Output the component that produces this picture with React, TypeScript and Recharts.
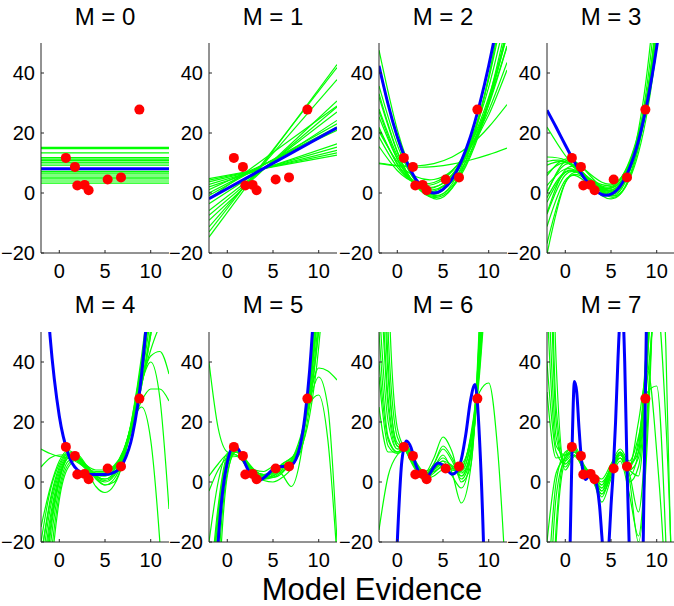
import React from 'react';
import { ComposedChart, Line, XAxis, YAxis } from 'recharts';

// observed data points (red)
const POINT_X = [0.72, 1.71, 1.97, 2.77, 3.21, 5.29, 6.75, 8.76];
const POINT_Y = [11.7, 8.7, 2.5, 2.7, 0.9, 4.5, 5.2, 27.8];

const TITLES = ['M = 0', 'M = 1', 'M = 2', 'M = 3', 'M = 4', 'M = 5', 'M = 6', 'M = 7'];
const X_TICKS = [0, 5, 10];
const Y_TICKS = [-20, 0, 20, 40];

// x grids the curves are sampled on
const X_ENDS = [-2, 12];
const X_STEP2 = [-2, 0, 2, 4, 6, 8, 10, 12];
const X_STEP1 = [-2, -1, 0, 1, 2, 3, 4, 5, 6, 7, 8, 9, 10, 11, 12];
const X_HALF = [-2, -1.5, -1, -0.5, 0, 0.5, 1, 1.5, 2, 2.5, 3, 3.5, 4, 4.5, 5, 5.5, 6, 6.5, 7, 7.5, 8, 8.5, 9, 9.5, 10, 10.5, 11, 11.5, 12];
const M7_BLUE_X = [-2, -1, 0, 0.25, 0.5, 0.75, 1, 1.25, 1.5, 1.75, 2, 2.25, 2.5, 2.75, 3, 3.25, 3.5, 3.75, 4, 4.25, 4.5, 4.75, 5, 5.25, 5.5, 5.75, 6, 6.25, 6.5, 6.75, 7, 7.25, 7.5, 7.75, 8, 8.25, 8.5, 8.75, 9, 9.5, 10, 11, 12];

// M = 0
const M0_BLUE = [8.1, 8.1];
const M0_GREEN_LEVELS = [15.2, 14.8, 13.4, 11.8, 11.3, 10.9, 10.3, 10.0, 9.3, 7.8, 7.1, 6.6, 6.0, 5.3, 4.7, 4.0, 3.3];

// M = 1 (value at x=-2, value at x=12)
const M1_BLUE = [-1.9, 21.7];
const M1_GREEN = [
  [4.8, 12.6], [3.7, 14.2], [2.9, 15.3], [2.0, 16.4], [1.1, 20.9], [0.0, 22.0], [-0.8, 23.1], [-3.6, 24.2],
  [-5.8, 27.0], [-7.4, 28.7], [-9.1, 30.7], [-11.3, 37.8], [-13.0, 41.8], [-14.7, 42.8], [4.3, 13.4], [-2.0, 29.0],
];

// M = 2
const M2_BLUE = [42.4, 29.5, 18.8, 10.6, 4.7, 1.2, 0, 1.2, 4.7, 10.6, 18.8, 29.5, 42.4, 57.7, 75.4];
const M2_GREEN = [
  [41.6, 18.1, 3.9, -1.2, 3.0, 16.3, 38.8, 70.6],
  [33.1, 13.9, 2.7, -0.5, 4.3, 17.1, 37.9, 66.7],
  [27.2, 11.5, 2.7, 0.6, 5.4, 17.0, 35.3, 60.5],
  [21.9, 9.6, 2.9, 1.8, 6.2, 16.3, 32.0, 53.3],
  [18.7, 8.6, 3.4, 2.9, 7.2, 16.3, 30.2, 49.0],
  [47.6, 21.1, 4.6, -1.9, 1.6, 15.1, 38.6, 72.1],
  [35.7, 16.0, 3.8, -0.8, 2.3, 12.9, 31.2, 57.0],
  [28.0, 12.4, 3.1, 0.2, 3.7, 13.6, 30.0, 52.7],
  [15.5, 7.5, 3.5, 3.5, 7.5, 15.5, 27.5, 43.5],
  [25.4, 11.3, 3.2, 1.1, 5.0, 14.9, 30.8, 52.7],
  [32.0, 13.6, 2.5, -1.5, 1.7, 12.2, 29.8, 54.7],
  [9.8, 9.0, 8.6, 8.8, 9.6, 11.0, 12.8, 15.0],
  [10.0, 9.2, 9.0, 9.8, 12.0, 16.0, 22.0, 29.5],
  [20.5, 10.5, 5.5, 4.5, 7.5, 15.0, 26.0, 41.0],
  [21.5, 9.8, 3.3, 2.0, 5.9, 15.0, 29.3, 48.8],
];

// M = 3
const M3_BLUE = [27.6, 21.9, 16.0, 10.3, 5.3, 1.6, -0.5, -0.4, 2.3, 8.1, 17.4, 30.8, 48.7, 71.5, 99.7];
const M3_GREEN = [
  [-1.6, 7.1, 5.6, 1.6, 2.8, 16.8, 51.4, 114.2],
  [-7.1, 6.0, 5.5, 0.9, 1.8, 17.8, 58.5, 133.6],
  [0.4, 9.5, 6.6, 0.6, -0.1, 13.3, 49.4, 116.8],
  [6.6, 10.1, 6.5, 2.3, 4.4, 19.4, 54.1, 115.1],
  [-11.2, 4.3, 4.2, -0.9, -0.4, 16.1, 59.3, 139.8],
  [-16.9, 3.4, 5.1, 0.2, 0.7, 18.6, 65.9, 154.6],
  [5.8, 11.3, 8.2, 3.6, 4.8, 19.0, 53.3, 115.0],
  [9.3, 10.4, 6.0, 1.8, 3.7, 17.5, 48.7, 103.4],
  [-3.1, 6.8, 5.6, 1.3, 2.1, 16.1, 51.6, 116.6],
  [0.0, 10.6, 8.1, 1.9, 1.8, 17.2, 57.9, 133.3],
  [22.0, 12.5, 5.5, 1.5, 4.5, 20.0, 52.0, 105.0],
  [-20.4, 3.4, 5.9, 0.8, 1.3, 21.0, 73.4, 171.7],
  [2.5, 8.0, 6.0, 2.8, 4.5, 17.5, 48.0, 102.2],
  [-6.6, 7.7, 6.5, 0.3, -0.4, 15.0, 57.0, 136.3],
  [12.0, 11.0, 6.5, 2.0, 3.5, 17.0, 50.0, 112.0],
  [10.5, 10.5, 5.5, 1.0, 3.0, 17.5, 52.0, 118.0],
];

// M = 4
const M4_BLUE = [95.1, 48.3, 22.0, 9.1, 4.0, 2.6, 2.5, 2.5, 3.2, 6.4, 15.6, 35.8, 73.4, 136.5, 234.6];
const M4_GREEN = [
  [-35, -12, 2, 8, 7, 4, 2, 2, 4, 10, 21, 37, 58, 85, 118],
  [-25, -6, 5, 9.5, 8, 5, 3, 3, 5, 10, 20, 35, 55, 80, 110],
  [-45, -16, 1, 9, 9, 5.5, 2, 0.5, 2.5, 9, 21, 38, 60, 88, 122],
  [-20, -3, 6, 10, 8.5, 5, 2.5, 2.5, 5, 10.5, 20, 33, 44, 52, 55],
  [-60, -22, -2, 7, 8, 5, 1, -1, 1, 8, 21, 40, 65, 95, 130],
  [5, 8, 9, 9, 7, 4.5, 3, 3, 4.5, 9, 18, 32, 49, 70, 95],
  [11, 9.5, 8.5, 8, 6.5, 4.5, 3.5, 3.5, 5, 9.5, 19, 33, 51, 74, 100],
  [-30, -9, 3, 8.5, 8, 5, 1.5, -1, 0, 7, 20, 34, 42, 43.5, 36],
  [-40, -14, 1, 8, 8, 5, 2, 1, 3, 9, 19, 27, 31, 31, 27],
  [-25, -7, 4, 9, 7.5, 4.5, 2.5, 2, 4, 10, 20, 25, 14, -20, -70],
  [-50, -18, 0, 8, 8.5, 5, 1.5, 0, 2, 8.5, 20, 33, 40, 28, -9],
  [-70, -28, -4, 6, 8, 4, -1.5, -3.5, -1, 7, 22, 42, 68, 100, 140],
  [-15, -2, 7, 10.5, 8.5, 5.5, 4, 4, 5.5, 10, 19, 32, 49, 70, 96],
  [-90, -35, -6, 5, 7.5, 5, 2, 1, 3, 9, 22, 40, 62, 90, 125],
];

// M = 5
const M5_BLUE = [-90, -50, -20, -3, 6.5, 11.2, 11.6, 9.3, 5.8, 2.8, 1.0, 0.6, 1.4, 2.8, 4.2, 5.0, 5.2, 5.2, 5.6, 7.5, 12.5, 22, 37, 60, 95, 140, 200, 280, 380];
const M5_GREEN = [
  [-60, -15, 7, 10, 6, 3, 2, 3, 5, 6, 12, 30, 62, 110, 180],
  [-40, -8, 9, 11, 7, 3.5, 2.5, 3.5, 5.5, 7, 13, 28, 55, 95, 150],
  [-80, -22, 5, 10.5, 6.5, 2.5, 1.5, 3, 6, 8, 13, 27, 50, 82, 120],
  [40, 18, 10, 9, 6, 3, 1.5, 2, 4, 6.5, 13, 31, 65, 120, 200],
  [-3, 4, 8, 8.5, 6, 3.5, 2.5, 3.5, 5.5, 7, 12, 28, 38, 37, 34],
  [2, 6, 9, 9, 5.5, 2.5, 1, 1.5, 3.5, 6, 13, 26, 29, 14, -25],
  [-50, -12, 7, 11, 7.5, 4, 2, 1.5, 3, 7, 15, 27, 35, 25, -20],
  [-100, -30, 3, 10, 7, 3, 0.5, 0, 1.5, 4.5, 12, 30, 60, 105, 170],
  [-70, -18, 6, 10, 6, 2.5, 1, 2.5, 6, 8, 11, 22, 45, 85, 145],
  [-45, -10, 8, 10.5, 7, 4, 3.5, 5, 2.5, -1.5, 8, 33, 75, 140, 230],
  [-20, 0, 9.5, 10, 6, 3, 2, 3, 5.5, 7.5, 14, 32, 70, 130, 210],
  [-120, -40, 2, 11, 7.5, 3, 1, 2, 4.5, 6, 10, 25, 52, 95, 160],
];

// M = 6
const M6_BLUE = [-300, -200, -120, -60, -20, 7, 13.7, 11.5, 6, 2.5, 1.5, 2.5, 5, 6.3, 5.5, 3.8, 2.6, 3.5, 7.5, 16, 27, 32.5, 14, -28, -100, -200, -300, -400, -500];
const M6_GREEN = [
  [80, 25, 11, 11.5, 5.5, 2, 4, 6, 4, 4, 13, 45, 120, 250, 400],
  [120, 35, 13, 11, 5, 1.5, 5, 8, 5, 2, 10, 50, 140, 280, 450],
  [50, 15, 10, 12, 6, 2.5, 6, 11, 7, 1, 8, 42, 110, 220, 380],
  [200, 50, 15, 10, 4.5, 1, 3, 5.5, 4.5, 5, 15, 40, 95, 190, 320],
  [35, 12, 9.5, 11, 6, 3, 8, 15, 10, 0, 5, 48, 130, 260, 420],
  [-16, 2, 9, 11, 5, 1, 2, 4, 3, 4, 14, 30, 33, 10, -40],
  [150, 40, 12, 10.5, 5, 2, 5, 9, 3, -7, 4, 52, 150, 300, 500],
  [90, 28, 12, 11, 5.5, 2.5, 4.5, 7, 5.5, 3, 9, 40, 105, 210, 350],
  [25, 10, 10, 12, 7, 3, 3.5, 5, 5, 6, 14, 38, 90, 180, 300],
  [300, 70, 18, 10, 4, 0.5, 4, 7, 2, -2, 8, 55, 160, 320, 520],
  [60, 20, 11, 11, 5, 1.5, 6, 12, 8, 2, 9, 44, 115, 230, 390],
  [40, 14, 10, 11.5, 6.5, 3.5, 5, 6, 4, 3.5, 12, 36, 85, 170, 290],
];

// M = 7
const M7_BLUE = [-300, -200, -80, -50, -25, 12, 33.5, 30, 18, 8, 2.5, 0.8, 2, 2.7, 2.2, 0.9, -2, -8, -18, -28, -33, -22, -8, 4, 20, 40, 55, 58, 40, 5.2, -22, -50, -70, -80, -75, -55, -25, 27, 80, 200, 300, 400, 500];
const M7_GREEN = [
  [80, 15, 7, 10, 4, 2, -3, 4, 8, 2, 10, 55, 150, 300, 500],
  [-60, -5, 8, 11, 5, 1.5, -5, 3, 10, 0, 5, 45, 140, 280, 450],
  [150, 25, 6, 9, 4.5, 3, -1, 5, 9, 5, 20, 37, 10, -40, -150],
  [-100, -15, 9, 12, 6, 1, -6.7, 1, 7, -4, -18, 20, 100, 250, 450],
  [40, 10, 6, 9, 5, 3, 1, 6, 11, 7, 15, 30, 32, -20, -120],
  [-40, 0, 10, 11.5, 4, 0, -4, 2, 8, 4, 2, 40, 120, 250, 400],
  [200, 40, 4, 8.5, 5, 2.5, -2, 4, 10, 6, 12, 50, 90, 45, -80],
  [-150, -20, 7, 10, 5.5, 2, -3, 3, 9, 3, -10, 25, 90, 200, 350],
  [60, 12, 9, 10, 4, 1, -2, 5, 10, 6, 10, 45, 110, 150, 80],
  [-20, 3, 8, 10.5, 5, 2.5, 0, 4.5, 8, 4, 8, 35, 60, 20, -60],
  [120, 20, 5, 9, 4.5, 1.5, -4, 2, 9, 1, -20, 15, 100, 220, 380],
  [30, 8, 9, 11, 5, 2, -1, 5, 9.5, 5, 14, 42, 100, 200, 320],
];

const FONT = '"Liberation Sans", Arial, Helvetica, sans-serif';
const COL_LEFT = [1, 169, 339, 507];
const ROW_TOP = [0, 289];
const CHART_W = 168;
const CHART_H = 289;

type Curve = 'linear' | 'natural' | 'monotone';

const toPoints = (xs: number[], ys: number[]) => xs.map((x, i) => ({ x, y: ys[i] }));

const PANELS: { curve: Curve; greenX: number[]; green: number[][]; blueX: number[]; blue: number[] }[] = [
  { curve: 'linear', greenX: X_ENDS, green: M0_GREEN_LEVELS.map((v) => [v, v]), blueX: X_ENDS, blue: M0_BLUE },
  { curve: 'linear', greenX: X_ENDS, green: M1_GREEN, blueX: X_ENDS, blue: M1_BLUE },
  { curve: 'natural', greenX: X_STEP2, green: M2_GREEN, blueX: X_STEP1, blue: M2_BLUE },
  { curve: 'natural', greenX: X_STEP2, green: M3_GREEN, blueX: X_STEP1, blue: M3_BLUE },
  { curve: 'monotone', greenX: X_STEP1, green: M4_GREEN, blueX: X_STEP1, blue: M4_BLUE },
  { curve: 'monotone', greenX: X_STEP1, green: M5_GREEN, blueX: X_HALF, blue: M5_BLUE },
  { curve: 'monotone', greenX: X_STEP1, green: M6_GREEN, blueX: X_HALF, blue: M6_BLUE },
  { curve: 'monotone', greenX: X_STEP1, green: M7_GREEN, blueX: M7_BLUE_X, blue: M7_BLUE },
];

const POINTS = toPoints(POINT_X, POINT_Y);
const tickStyle = { fill: '#000', fontSize: 20, fontFamily: FONT };
const fmt = (v: number) => (v < 0 ? `\u2212${Math.abs(v)}` : `${v}`);

function Panel({ index }: { index: number }) {
  const p = PANELS[index];
  const left = COL_LEFT[index % 4];
  const top = ROW_TOP[Math.floor(index / 4)];
  return (
    <div style={{ position: 'absolute', left, top }}>
      <ComposedChart width={CHART_W} height={CHART_H} margin={{ top: 43, right: 0, bottom: 0, left: 0 }}>
        <XAxis
          dataKey="x"
          type="number"
          domain={[-2, 12]}
          ticks={X_TICKS}
          interval={0}
          allowDataOverflow
          height={36}
          tickSize={-3}
          tickMargin={14}
          stroke="#262626"
          tick={tickStyle}
        />
        <YAxis
          type="number"
          domain={[-20, 50]}
          ticks={Y_TICKS}
          interval={0}
          allowDataOverflow
          width={40}
          tickSize={-3}
          tickMargin={9}
          stroke="#262626"
          tick={tickStyle}
          tickFormatter={fmt}
        />
        {p.green.map((ys, i) => (
          <Line
            key={`g${i}`}
            data={toPoints(p.greenX, ys)}
            dataKey="y"
            type={p.curve}
            stroke="#00ff00"
            strokeWidth={1.2}
            dot={false}
            activeDot={false}
            isAnimationActive={false}
          />
        ))}
        <Line
          data={toPoints(p.blueX, p.blue)}
          dataKey="y"
          type={p.curve}
          stroke="#0000ff"
          strokeWidth={3}
          dot={false}
          activeDot={false}
          isAnimationActive={false}
        />
        <Line
          data={POINTS}
          dataKey="y"
          stroke="none"
          dot={{ r: 5, fill: '#ff0000', stroke: 'none' }}
          activeDot={false}
          isAnimationActive={false}
        />
      </ComposedChart>
    </div>
  );
}

export default function App() {
  return (
    <div style={{ position: 'absolute', left: 0, top: 0, width: 674, height: 606, background: '#fff', overflow: 'hidden' }}>
      {PANELS.map((_, i) => (
        <Panel key={i} index={i} />
      ))}
      <svg width={674} height={606} style={{ position: 'absolute', left: 0, top: 0, pointerEvents: 'none' }}>
        {TITLES.map((t, i) => (
          <text
            key={t}
            x={COL_LEFT[i % 4] + 40 + 64}
            y={i < 4 ? 25 : 313}
            textAnchor="middle"
            fontFamily={FONT}
            fontSize={24}
            fill="#000"
          >
            {t}
          </text>
        ))}
        <text x={372} y={600} textAnchor="middle" fontFamily={FONT} fontSize={31} fill="#000">
          Model Evidence
        </text>
      </svg>
    </div>
  );
}
